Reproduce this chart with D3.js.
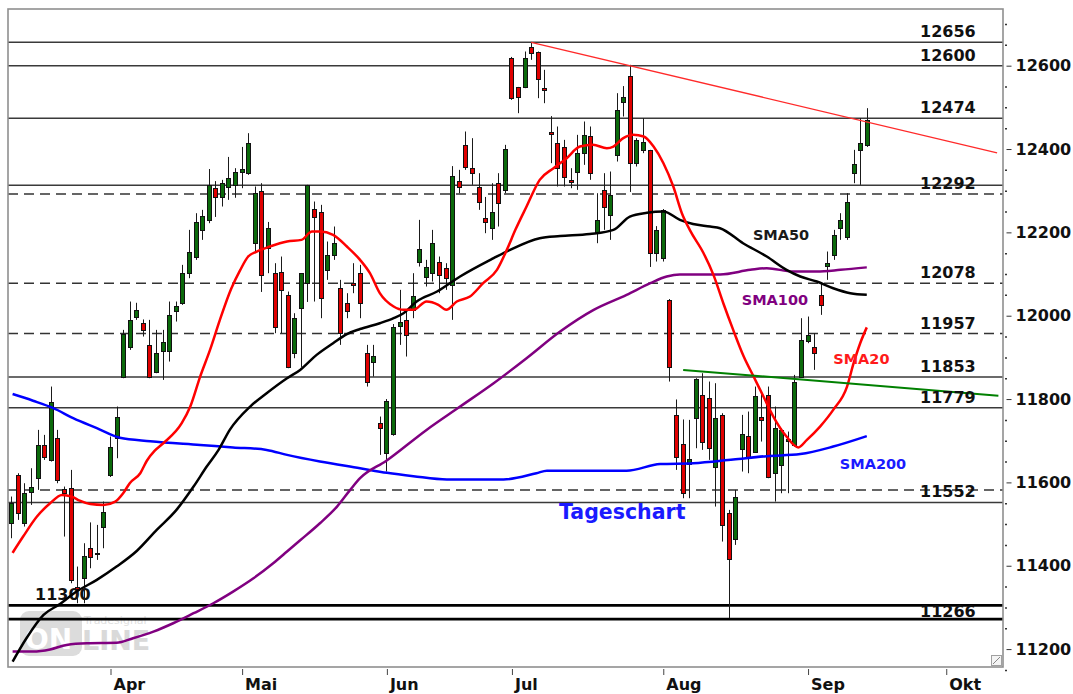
<!DOCTYPE html>
<html><head><meta charset="utf-8">
<script src="https://cdn.jsdelivr.net/npm/d3@7"></script>
<style>
html,body{margin:0;padding:0;background:#fff;}
svg{display:block;font-family:"DejaVu Sans",Verdana,sans-serif;}
</style></head><body>
<svg id="chart" width="1073" height="694"></svg>
<script>
// ---- data (DAX daily candles, index 0 = first bar) ----
const opens = [11502,11617,11502,11576,11610,11689,11654,11706,11585,11586,
11350,11370,11442,11428,11494,11618,11706,11854,11926,11996,
11982,11930,11866,11916,11916,12012,12031,12102,12142,12206,
12230,12306,12285,12309,12314,12344,12343,12174,12299,12162,
12102,12106,12049,11910,12018,12078,12256,12248,12110,12146,
12066,12030,12079,12103,11910,11889,11743,11670,11717,11975,
11990,12014,12128,12093,12102,12128,12114,12074,12323,12410,
12355,12309,12235,12210,12318,12302,12618,12549,12549,12645,
12634,12546,12440,12414,12405,12325,12345,12390,12431,12200,
12302,12242,12386,12513,12575,12366,12398,12398,12150,12138,
12038,11761,11692,11645,11754,11810,11802,11638,11762,11526,
11463,11679,11711,11674,11758,11810,11622,11641,11700,11690,
11854,11939,11925,12050,12119,12146,12210,12190,12343,12398,
12410];
const highs = [11566,11622,11598,11634,11726,11714,11830,11726,11590,11630,
11398,11454,11504,11498,11554,11710,11782,11966,12034,12031,
11991,11990,11966,11966,12034,12034,12122,12206,12246,12254,
12352,12323,12326,12381,12354,12405,12438,12310,12318,12225,
12126,12142,12058,12006,12102,12314,12274,12266,12178,12214,
12086,12054,12126,12122,11930,11930,11758,11800,11980,12062,
12010,12102,12230,12134,12206,12142,12126,12359,12350,12442,
12426,12342,12285,12318,12342,12410,12621,12549,12634,12656,
12634,12590,12479,12454,12422,12354,12434,12466,12454,12294,
12342,12346,12534,12551,12602,12426,12474,12398,12215,12256,
12040,11799,11751,11750,11850,11862,11842,11838,11766,11534,
11582,11762,11770,11830,11814,11830,11782,11730,11722,11858,
11994,11998,11958,12078,12154,12206,12246,12294,12398,12474,
12498];
const lows = [11466,11510,11494,11546,11582,11654,11650,11598,11470,11358,
11310,11310,11394,11414,11442,11613,11658,11850,11918,11990,
11950,11850,11862,11846,11890,11986,12026,12090,12134,12182,
12222,12237,12262,12278,12283,12306,12338,12150,12057,12102,
11958,11958,11874,11898,11877,12033,12034,11994,12086,12134,
11930,11994,12054,11994,11830,11854,11666,11626,11712,11930,
11902,11994,12118,12070,12082,12054,12062,11990,12294,12350,
12314,12254,12198,12182,12214,12294,12518,12486,12546,12614,
12522,12510,12366,12310,12310,12306,12302,12362,12326,12174,
12206,12182,12370,12478,12297,12358,12390,12117,12130,12130,
11842,11630,11562,11562,11682,11678,11654,11542,11458,11274,
11450,11626,11622,11674,11698,11610,11554,11574,11574,11686,
11853,11934,11870,12002,12086,12134,12182,12182,12318,12314,
12405];
const closes = [11550,11526,11574,11590,11690,11660,11794,11606,11575,11366,
11344,11424,11422,11430,11530,11686,11758,11957,11990,12014,
11966,11854,11910,11938,12002,12023,12102,12154,12226,12239,
12314,12285,12318,12330,12344,12351,12414,12294,12097,12210,
11973,12062,11878,11994,12102,12314,12237,12042,12146,12174,
11958,12012,12074,12030,11841,11903,11730,11796,11972,11985,
11954,12047,12160,12117,12174,12098,12090,12335,12309,12357,
12342,12273,12225,12248,12270,12400,12522,12525,12618,12630,
12568,12542,12436,12354,12334,12321,12390,12433,12342,12229,
12261,12290,12493,12524,12366,12422,12418,12150,12206,12253,
11877,11662,11574,11655,11847,11698,11682,11754,11498,11415,
11566,11716,11660,11807,11750,11614,11730,11726,11705,11842,
11942,11954,11910,12026,12126,12194,12229,12273,12364,12414,
12469];

// moving averages: [bar index, value]
const sma20 = [[0.2,11431],[1.8,11470],[3.9,11518],[5.9,11550],[7.7,11570],[9.2,11566],[10.4,11556],[12,11548],[14,11546],[15.8,11554],[17,11574],[18,11598],[19.6,11622],[20.6,11652],[21.8,11676],[23.1,11694],[25.9,11742],[27.2,11782],[28.7,11854],[30.2,11918],[31.7,11990],[33.4,12064],[34.8,12110],[36,12142],[37.3,12154],[39.3,12166],[41.9,12178],[44.1,12182],[45.7,12202],[46.9,12202],[48.9,12194],[51,12166],[53,12134],[54.5,12102],[56,12054],[58.1,12022],[59.6,12014],[61.1,12014],[63.1,12034],[64.9,12026],[66.1,12014],[67.7,12034],[69.7,12046],[71.7,12078],[73.8,12110],[75.3,12158],[76.6,12206],[78.3,12262],[80.3,12326],[82.4,12354],[84.4,12378],[86.4,12406],[88.4,12410],[90.5,12402],[91.5,12406],[93,12426],[94.5,12434],[96.1,12430],[97.6,12406],[99.1,12366],[100.6,12310],[101.9,12246],[103.1,12206],[105.2,12150],[106.7,12098],[108.2,12030],[109.7,11966],[111.3,11902],[112.8,11854],[114.3,11806],[115.8,11758],[117.8,11710],[119.6,11684],[120.9,11702],[122.9,11734],[124.9,11774],[127,11830],[128,11886],[129,11934],[130,11972]];
const sma50 = [[0.2,11170],[2.3,11226],[4.9,11282],[7.4,11308],[9.9,11338],[13,11366],[16,11398],[19.1,11436],[22.1,11486],[25.1,11534],[27.7,11590],[29.7,11638],[31.5,11678],[33.2,11726],[36.3,11782],[38.8,11814],[41.9,11850],[43.9,11870],[46.4,11906],[48.9,11934],[51,11956],[53,11968],[56,11982],[58.1,11994],[59.6,12006],[61.6,12034],[64.7,12058],[68.2,12094],[73.3,12138],[75.8,12158],[80.3,12186],[83.4,12191],[87.9,12196],[91.5,12206],[94,12238],[96.6,12247],[99.1,12250],[101.6,12230],[103.6,12220],[106.2,12214],[107.7,12210],[111.2,12174],[114.8,12142],[117.8,12110],[119.9,12094],[122.4,12082],[124.9,12066],[127.5,12054],[130,12050]];
const sma100 = [[0.2,11194],[3.3,11194],[5.9,11199],[8.4,11210],[11.5,11214],[16,11215],[18.5,11226],[21.6,11242],[24.6,11262],[27.7,11286],[30.7,11310],[33.7,11338],[36.8,11370],[39.8,11406],[41.9,11434],[43.9,11461],[46.9,11502],[49.5,11542],[51.5,11582],[53,11610],[57,11652],[63.1,11726],[68.2,11782],[73.3,11838],[78.3,11898],[83.4,11962],[88.5,12014],[93.5,12050],[97.1,12078],[99.6,12094],[101.6,12099],[107.7,12099],[112.3,12110],[114.8,12114],[118.8,12106],[122.4,12106],[126,12110],[130,12116]];
const sma200 = [[0.2,11812],[3.3,11796],[6.4,11778],[9.4,11754],[13,11730],[16.5,11707],[21.1,11699],[28.7,11690],[33.7,11684],[38.8,11678],[41.9,11666],[46.9,11650],[53,11634],[57.1,11623],[61.1,11615],[66.2,11607],[74.8,11607],[79.8,11622],[81.4,11628],[93.5,11628],[98.6,11644],[103.6,11646],[109.7,11655],[114.8,11663],[119.9,11668],[124.9,11686],[130,11711]];

// trend lines [index, value]
const redTrend = [[79,12656],[149.8,12391]];
const greenTrend = [[102.1,11870],[150,11808]];

// horizontal levels
const solidLevels = [12656, 12600, 12474, 12313, 11853, 11779, 11552];
const dashedLevels = [12292, 12078, 11957, 11582];
const thickLevels = [11305, 11272];
const levelLabels = ["12656","12600","12474","12292","12078","11957","11853","11779","11552","11266"];
const levelLabelValues = [12656, 12600, 12474, 12292, 12078, 11957, 11853, 11779, 11552, 11266];

// axes
const yMajorTicks = [11200, 11400, 11600, 11800, 12000, 12200, 12400, 12600];
const yMinorTicks = [11150,11250,11300,11350,11450,11500,11550,11650,11700,11750,11850,11900,11950,12050,12100,12150,12250,12300,12350,12450,12500,12550,12650,12700];
const monthLabels = ["Apr","Mai","Jun","Jul","Aug","Sep","Okt"];
const monthIdx = [15, 35, 57, 76, 99, 121, 142];

// ---- drawing ----
const svg = d3.select("#chart");
const L = 8, T = 9, R = 1003, B = 667;
const x = d3.scaleLinear().domain([-0.5, 150.7]).range([L, R]);
const y = d3.scaleLinear().domain([11157, 12736]).range([B, T]);

svg.append("rect").attr("width",1073).attr("height",694).attr("fill","#fff");
svg.append("defs").append("clipPath").attr("id","clip")
  .append("rect").attr("x",L).attr("y",T).attr("width",R-L).attr("height",B-T);

const plot = svg.append("g").attr("clip-path","url(#clip)");

// watermark logo
const wm = plot.append("g").attr("opacity",0.85);
wm.append("rect").attr("x",20).attr("y",611).attr("width",62).attr("height",45).attr("rx",9).attr("fill","#d6d6d6");
wm.append("text").attr("x",25).attr("y",649).attr("font-size",28).attr("font-weight","bold").attr("fill","#fff").text("ON");
wm.append("text").attr("x",82).attr("y",650).attr("font-size",27).attr("font-weight","bold").attr("fill","#d3d3d3").text("LINE");
wm.append("text").attr("x",84).attr("y",624).attr("font-size",11).attr("fill","#dcdcdc").text("Tradesignal");

// level lines
plot.selectAll("line.solid").data(solidLevels).enter().append("line")
  .attr("x1",L).attr("x2",R).attr("y1",d=>y(d)).attr("y2",d=>y(d))
  .attr("stroke","#3a3a3a").attr("stroke-width",1.5);
plot.selectAll("line.dash").data(dashedLevels).enter().append("line")
  .attr("x1",L).attr("x2",R).attr("y1",d=>y(d)).attr("y2",d=>y(d))
  .attr("stroke","#333").attr("stroke-width",1.5).attr("stroke-dasharray","10,6");
plot.selectAll("line.thick").data(thickLevels).enter().append("line")
  .attr("x1",L).attr("x2",R).attr("y1",d=>y(d)).attr("y2",d=>y(d))
  .attr("stroke","#000").attr("stroke-width",2.7);

// low label
plot.append("text").attr("x",35).attr("y",y(11300)-7).attr("font-size",16).attr("font-weight","bold")
  .attr("fill","#111").text("11300");

// candles
const idx = d3.range(closes.length);
const cg = plot.append("g");
cg.selectAll("line.wick").data(idx).enter().append("line")
  .attr("x1",i=>Math.round(x(i))+0.5).attr("x2",i=>Math.round(x(i))+0.5)
  .attr("y1",i=>y(highs[i])).attr("y2",i=>y(lows[i]))
  .attr("stroke","#1a1a1a").attr("stroke-width",1);
cg.selectAll("rect.body").data(idx).enter().append("rect")
  .attr("x",i=>Math.round(x(i))-1.5).attr("width",4)
  .attr("y",i=>Math.round(y(Math.max(opens[i],closes[i])))+0.5)
  .attr("height",i=>Math.max(1,Math.round(y(Math.min(opens[i],closes[i])))-Math.round(y(Math.max(opens[i],closes[i])))))
  .attr("fill",i=>closes[i]>=opens[i]?"#0b6a0b":"#e00000")
  .attr("stroke","#111").attr("stroke-width",1);

// moving averages
const line = d3.line().x(d=>x(d[0])).y(d=>y(d[1])).curve(d3.curveMonotoneX);
const mas = [[sma200,"#0000ff"],[sma100,"#800080"],[sma50,"#000000"],[sma20,"#ff0000"]];
mas.forEach(([data,col])=>{
  plot.append("path").datum(data).attr("d",line).attr("fill","none")
    .attr("stroke",col).attr("stroke-width",2.5).attr("stroke-linejoin","round");
});

// trend lines
const tline = d3.line().x(d=>x(d[0])).y(d=>y(d[1]));
plot.append("path").datum(greenTrend).attr("d",tline).attr("stroke","#008000").attr("stroke-width",2).attr("fill","none");
plot.append("path").datum(redTrend).attr("d",tline).attr("stroke","#ff2a2a").attr("stroke-width",1.3).attr("fill","none");

// level labels
plot.selectAll("text.lvl").data(levelLabelValues).enter().append("text")
  .attr("x",920).attr("y",d=>y(d)-5).attr("font-size",16).attr("font-weight","bold")
  .attr("fill","#111").text((d,i)=>levelLabels[i]);

// SMA labels
const smaLabels = [["SMA50",112.7,12182,"#1a1a1a"],["SMA100",111,12026,"#800080"],["SMA20",124.9,11885,"#ff1a1a"],["SMA200",125.9,11632,"#1a1aff"]];
smaLabels.forEach(([t,i,v,c])=>{
  plot.append("text").attr("x",x(i)).attr("y",y(v)).attr("font-size",14.5).attr("font-weight","bold")
    .attr("fill",c).text(t);
});
plot.append("text").attr("x",559).attr("y",y(11512)).attr("font-size",20.5).attr("font-weight","bold")
  .attr("fill","#1a1aff").text("Tageschart");

// right axis
const yAxis = svg.append("g").attr("transform","translate(1006.5,0)")
  .call(d3.axisRight(y).tickValues(yMajorTicks).tickSize(5).tickPadding(4).tickFormat(d3.format("d")));
yAxis.select(".domain").remove();
yAxis.selectAll("line").attr("stroke","#333");
yAxis.selectAll("text").attr("font-size",16).attr("font-weight","bold").attr("fill","#111")
  .attr("font-family",'"DejaVu Sans",Verdana,sans-serif');
const yMinor = svg.append("g").attr("transform","translate(1005,0)")
  .call(d3.axisRight(y).tickValues(yMinorTicks).tickSize(2).tickFormat(""));
yMinor.select(".domain").remove();
yMinor.selectAll("line").attr("stroke","#333").attr("stroke-width",1.5);

// bottom axis
const xAxis = svg.append("g").attr("transform","translate(0,669)")
  .call(d3.axisBottom(x).tickValues(monthIdx).tickSize(6).tickFormat((d,i)=>monthLabels[i]));
xAxis.select(".domain").remove();
xAxis.selectAll("line").attr("stroke","#444").attr("transform","translate(0.5,0)");
xAxis.selectAll("text").attr("text-anchor","start").attr("x",3).attr("y",21).attr("dy",0)
  .attr("font-size",16).attr("font-weight","bold").attr("fill","#111")
  .attr("font-family",'"DejaVu Sans",Verdana,sans-serif');

// frame
svg.append("rect").attr("x",L).attr("y",T).attr("width",R-L).attr("height",B-T)
  .attr("fill","none").attr("stroke","#8f8f8f").attr("stroke-width",1.6);

// resize grip
svg.append("rect").attr("x",991.5).attr("y",655.5).attr("width",10).attr("height",10)
  .attr("fill","#f4f4f4").attr("stroke","#a0a0a0");
svg.append("line").attr("x1",993).attr("y1",664).attr("x2",1000).attr("y2",657).attr("stroke","#888");
</script>
</body></html>
